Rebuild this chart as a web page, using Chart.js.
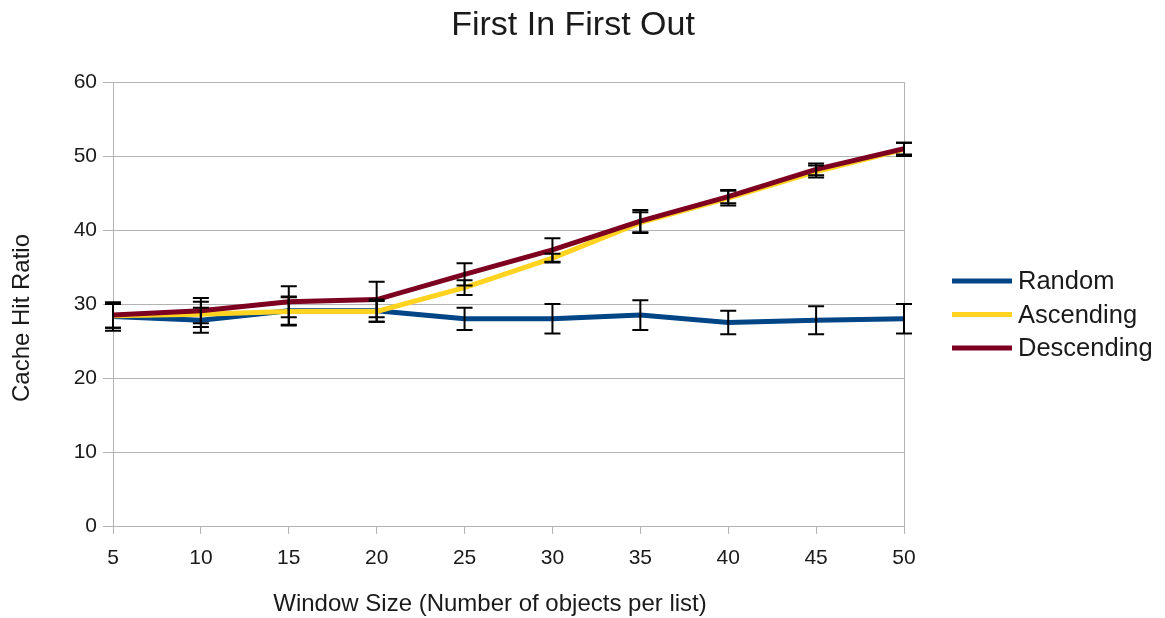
<!DOCTYPE html>
<html>
<head>
<meta charset="utf-8">
<title>First In First Out</title>
<script src="https://cdn.jsdelivr.net/npm/chart.js@4/dist/chart.umd.min.js"></script>
<style>
  html, body { margin: 0; padding: 0; background: #ffffff; }
  #wrap { width: 1165px; height: 618px; position: relative; }
</style>
</head>
<body>
<div id="wrap"><canvas id="chart" width="1165" height="618"></canvas></div>
<script>
// Window sizes (objects per list)
const windowSizes = [5, 10, 15, 20, 25, 30, 35, 40, 45, 50];

// Mean cache hit ratio per access pattern
const randomHits     = [28.3, 27.8, 29.1, 29.1, 28.0, 28.0, 28.5, 27.5, 27.8, 28.0];
const ascendingHits  = [28.4, 28.6, 29.0, 29.0, 32.2, 36.2, 41.0, 44.3, 47.9, 50.9];
const descendingHits = [28.5, 29.1, 30.3, 30.6, 34.0, 37.3, 41.2, 44.5, 48.2, 51.0];

// Error (± half-range) per point
const randomErr     = [1.9, 1.7, 1.9, 1.5, 1.5, 2.0, 2.0, 1.6, 1.9, 2.0];
const ascendingErr  = [1.6, 1.7, 1.9, 1.4, 1.0, 0.6, 1.4, 1.0, 0.8, 0.9];
const descendingErr = [1.7, 1.7, 2.1, 2.4, 1.5, 1.6, 1.5, 0.9, 0.8, 0.8];

const yTicks = [0, 10, 20, 30, 40, 50, 60];

const FONT = '"Liberation Sans", Arial, sans-serif';
const TEXT = '#1a1a1a';
const GRID = '#b3b3b3';

const toPoints = (ys) => windowSizes.map((x, i) => ({ x, y: ys[i] }));

// Later series are painted over earlier ones
const seriesDefs = [
  { label: 'Random',     data: randomHits,     err: randomErr,     color: '#004586', order: 2 },
  { label: 'Ascending',  data: ascendingHits,  err: ascendingErr,  color: '#ffd320', order: 1 },
  { label: 'Descending', data: descendingHits, err: descendingErr, color: '#7e0021', order: 0 }
];

// Vertical error bars with caps, drawn over the lines
const errorBars = {
  id: 'errorBars',
  afterDatasetsDraw(chart) {
    const { ctx, scales: { y } } = chart;
    ctx.save();
    ctx.strokeStyle = '#000000';
    ctx.lineWidth = 2;
    chart.data.datasets.forEach((ds, di) => {
      const meta = chart.getDatasetMeta(di);
      meta.data.forEach((pt, i) => {
        const v = ds.data[i].y, e = ds.errors[i];
        const top = y.getPixelForValue(v + e);
        const bot = y.getPixelForValue(v - e);
        const x = pt.x;
        ctx.beginPath();
        ctx.moveTo(x, top); ctx.lineTo(x, bot);
        ctx.moveTo(x - 8, top); ctx.lineTo(x + 8, top);
        ctx.moveTo(x - 8, bot); ctx.lineTo(x + 8, bot);
        ctx.stroke();
      });
    });
    ctx.restore();
  }
};

// Title, axis titles, right frame edge and legend
const decorations = {
  id: 'decorations',
  beforeDatasetsDraw(chart) {
    const { ctx, chartArea: a } = chart;
    ctx.save();
    ctx.strokeStyle = GRID;
    ctx.lineWidth = 1;
    ctx.beginPath();
    ctx.moveTo(Math.round(a.right) + 0.5, a.top);
    ctx.lineTo(Math.round(a.right) + 0.5, a.bottom + 8);
    ctx.stroke();
    ctx.restore();
  },
  afterDraw(chart) {
    const { ctx } = chart;
    ctx.save();
    ctx.fillStyle = TEXT;
    ctx.textAlign = 'center';
    ctx.textBaseline = 'middle';
    ctx.font = '34px ' + FONT;
    ctx.fillText('First In First Out', 573, 26);

    ctx.font = '24px ' + FONT;
    ctx.fillText('Window Size (Number of objects per list)', 490, 604);

    ctx.save();
    ctx.translate(22, 318);
    ctx.rotate(-Math.PI / 2);
    ctx.fillText('Cache Hit Ratio', 0, 0);
    ctx.restore();

    // Legend
    ctx.textAlign = 'left';
    ctx.font = '25.5px ' + FONT;
    const items = chart.data.datasets;
    items.forEach((ds, i) => {
      const yy = 281 + i * 33.5;
      ctx.strokeStyle = ds.borderColor;
      ctx.lineWidth = 5;
      ctx.beginPath();
      ctx.moveTo(952, yy); ctx.lineTo(1012, yy);
      ctx.stroke();
      ctx.fillStyle = TEXT;
      ctx.fillText(ds.label, 1018, yy + 1);
    });
    ctx.restore();
  }
};

new Chart(document.getElementById('chart'), {
  type: 'line',
  data: {
    datasets: seriesDefs.map(s => ({
      label: s.label,
      data: toPoints(s.data),
      errors: s.err,
      order: s.order,
      borderColor: s.color,
      backgroundColor: s.color,
      borderWidth: 5,
      pointRadius: 0,
      tension: 0,
      fill: false
    }))
  },
  options: {
    responsive: false,
    animation: false,
    layout: { padding: { top: 82, right: 261, left: 0, bottom: 0 } },
    plugins: {
      legend: { display: false },
      title: { display: false },
      tooltip: { enabled: false }
    },
    scales: {
      x: {
        type: 'linear',
        min: 5, max: 50,
        afterBuildTicks(scale) { scale.ticks = windowSizes.map(v => ({ value: v })); },
        afterFit(scale) { scale.height = 92; },
        grid: { drawOnChartArea: false, drawTicks: true, tickLength: 8, color: GRID },
        border: { color: GRID, width: 1 },
        ticks: { font: { family: FONT, size: 21 }, color: TEXT, padding: 12, maxRotation: 0 }
      },
      y: {
        min: 0, max: 60,
        afterBuildTicks(scale) { scale.ticks = yTicks.map(v => ({ value: v })); },
        afterFit(scale) { scale.width = 113; },
        grid: { color: GRID, tickLength: 10, drawTicks: true },
        border: { color: GRID, width: 1 },
        ticks: { font: { family: FONT, size: 21 }, color: TEXT, padding: 6 }
      }
    }
  },
  plugins: [errorBars, decorations]
});
</script>
</body>
</html>
